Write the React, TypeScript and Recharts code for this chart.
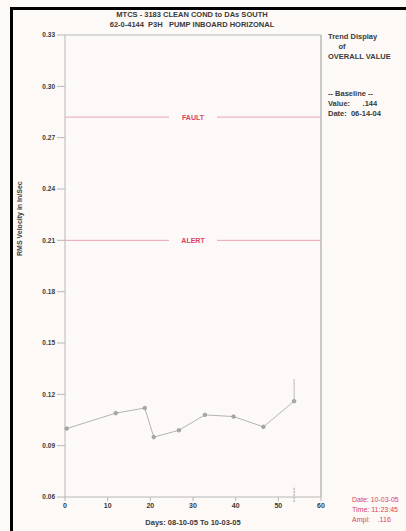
import React from 'react';
import {
  LineChart,
  Line,
  XAxis,
  YAxis,
  ReferenceLine,
} from 'recharts';

// trend readings (days since start, overall RMS velocity)
const days = [0.4, 11.9, 18.7, 20.8, 26.7, 32.8, 39.5, 46.5, 53.7];
const values = [0.1, 0.109, 0.112, 0.095, 0.099, 0.108, 0.107, 0.101, 0.116];

// peak marker above the last reading
const peakDays = [53.7, 53.7];
const peakValues = [0.116, 0.129];

const yTicks = [0.06, 0.09, 0.12, 0.15, 0.18, 0.21, 0.24, 0.27, 0.3, 0.33];
const xTicks = [0, 10, 20, 30, 40, 50, 60];

const FAULT = 0.282;
const ALERT = 0.21;
const CURSOR_DAY = 53.7;

const data = days.map((d, i) => ({ day: d, value: values[i] }));
const peakData = peakDays.map((d, i) => ({ day: d, value: peakValues[i] }));

const FONT = '"Liberation Sans", Arial, sans-serif';
const INK = '#3a3a3a';
const RED = '#d9435f';
const AXIS = '#b8b8b8';

const LimitLabel = ({ viewBox, text }: any) => {
  const cx = viewBox.x + viewBox.width / 2;
  const cy = viewBox.y;
  return (
    <g>
      <rect x={cx - 24} y={cy - 6} width={48} height={12} fill="#fdf9f8" />
      <text x={cx} y={cy + 2.5} textAnchor="middle" fontSize={7} fontWeight={700} fill={RED} fontFamily={FONT}>
        {text}
      </text>
    </g>
  );
};

const txt: React.CSSProperties = {
  position: 'absolute',
  fontFamily: FONT,
  fontSize: 7.5,
  fontWeight: 700,
  color: INK,
  whiteSpace: 'pre',
  lineHeight: '10px',
};

export default function App() {
  return (
    <div style={{ position: 'absolute', left: 0, top: 0, width: 406, height: 531, background: '#fcf9f7', overflow: 'hidden' }}>
      <div style={{ position: 'absolute', left: 10, top: 7, width: 420, height: 540, borderTop: '3px solid #000', borderLeft: '3px solid #000' }} />

      <div style={{ ...txt, left: 0, width: 384, top: 10, textAlign: 'center' }}>
        {'MTCS - 3183 CLEAN COND to DAs SOUTH\n62-0-4144  P3H   PUMP INBOARD HORIZONAL'}
      </div>

      <div style={{ ...txt, left: 328, top: 32 }}>{'Trend Display\n     of\nOVERALL VALUE'}</div>
      <div style={{ ...txt, left: 328, top: 89 }}>{'-- Baseline --\nValue:      .144\nDate:  06-14-04'}</div>

      <div style={{ ...txt, left: 352, top: 495, color: RED, fontWeight: 400, fontSize: 7 }}>
        {'Date: 10-03-05\nTime: 11:23:45\nAmpl:    .116'}
      </div>

      <div style={{ position: 'absolute', left: 0, top: 0 }}>
        <LineChart
          width={406}
          height={531}
          data={data}
          margin={{ top: 35, right: 85, bottom: 12, left: 0 }}
        >
          <rect x={65} y={35} width={255} height={462} fill="#fdf9f8" />
          <XAxis
            dataKey="day"
            type="number"
            domain={[0, 60]}
            ticks={xTicks}
            interval={0}
            height={22}
            stroke={AXIS}
            tickSize={4}
            tick={{ fontSize: 7, fontWeight: 700, fill: INK, fontFamily: FONT }}
            label={{
              value: 'Days:  08-10-05   To   10-03-05',
              position: 'insideBottom',
              offset: -6,
              fontSize: 7.5,
              fontWeight: 700,
              fill: INK,
              fontFamily: FONT,
            }}
          />
          <YAxis
            yAxisId="left"
            type="number"
            domain={[0.06, 0.33]}
            ticks={yTicks}
            interval={0}
            width={65}
            stroke={AXIS}
            tickSize={8}
            tickFormatter={(v: number) => v.toFixed(2)}
            tick={{ fontSize: 6.5, fontWeight: 700, fill: INK, fontFamily: FONT }}
            label={{
              value: 'RMS Velocity in In/Sec',
              angle: -90,
              position: 'insideLeft',
              offset: 20,
              dy: -10,
              fontSize: 7,
              fontWeight: 700,
              fill: INK,
              fontFamily: FONT,
            }}
          />
          <YAxis
            yAxisId="right"
            orientation="right"
            type="number"
            domain={[0.06, 0.33]}
            ticks={yTicks}
            interval={0}
            width={1}
            mirror
            stroke={AXIS}
            tickSize={4}
            tick={false}
          />
          <ReferenceLine yAxisId="left" y={0.33} stroke={AXIS} />
          <ReferenceLine yAxisId="left" x={60} stroke={AXIS} />
          <ReferenceLine
            yAxisId="left"
            y={FAULT}
            stroke="#eca4b0"
            label={<LimitLabel text="FAULT" />}
          />
          <ReferenceLine
            yAxisId="left"
            y={ALERT}
            stroke="#eca4b0"
            label={<LimitLabel text="ALERT" />}
          />
          <ReferenceLine
            yAxisId="left"
            segment={[{ x: CURSOR_DAY, y: 0.057 }, { x: CURSOR_DAY, y: 0.066 }]}
            stroke="#9a9a9a"
            strokeDasharray="2 1"
            ifOverflow="visible"
          />
          <Line
            yAxisId="left"
            dataKey="value"
            type="linear"
            stroke="#b4b4b4"
            strokeWidth={1}
            dot={{ r: 1.8, fill: '#a8a8a8', stroke: '#9a9a9a', strokeWidth: 0.8 }}
            isAnimationActive={false}
          />
          <Line
            yAxisId="left"
            data={peakData}
            dataKey="value"
            type="linear"
            stroke="#bdbdbd"
            strokeWidth={1}
            dot={false}
            isAnimationActive={false}
          />
        </LineChart>
      </div>
    </div>
  );
}
